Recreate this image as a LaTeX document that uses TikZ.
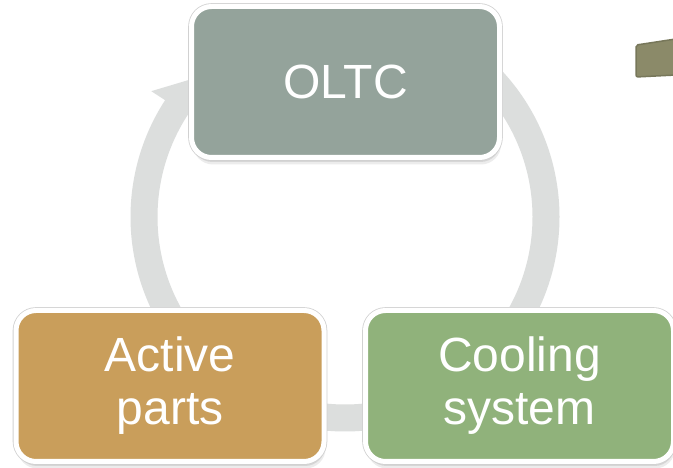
\documentclass[tikz,border=0pt]{standalone}
\usepackage{fontspec}
\setmainfont{Liberation Sans}
\usetikzlibrary{shadows}
\definecolor{oltcc}{HTML}{94A39B}
\definecolor{activec}{HTML}{C99E5B}
\definecolor{coolc}{HTML}{90B27B}
\definecolor{ringc}{HTML}{DCDEDD}
\definecolor{olivec}{HTML}{8B8A69}
\definecolor{olived}{HTML}{77775A}
\begin{document}
\begin{tikzpicture}[x=1pt,y=1pt,
  box/.style={rounded corners=20pt, draw=white, line width=5pt, text=white,
    minimum width=308pt, minimum height=151pt, inner sep=0pt, align=center,
    font=\fontsize{48}{53}\selectfont,
    drop shadow={opacity=0.15, shadow xshift=1.5pt, shadow yshift=-7pt},
    drop shadow={opacity=0.2, shadow xshift=1pt, shadow yshift=-4.5pt},
    drop shadow={opacity=0.22, shadow xshift=0.5pt, shadow yshift=-2.5pt},
    preaction={draw=black!18, line width=6.6pt}},
  ring/.style={draw=ringc, line width=27pt}]
\useasboundingbox (0,0) rectangle (673,468);
\clip (0,0) rectangle (673,468);
\fill[white] (0,0) rectangle (673,468);
% cycle ring
\coordinate (ctr) at (345,251);
\draw[ring] ([shift={(215:201)}]ctr) arc[start angle=215, end angle=146, radius=201];
\fill[ringc] ([shift={(147:171)}]ctr) -- ([shift={(147:231)}]ctr) -- ([shift={(137:204)}]ctr) -- cycle;
\draw[ring] ([shift={(45:201)}]ctr) arc[start angle=45, end angle=-50, radius=201];
\draw[ring] ([shift={(-60:201)}]ctr) arc[start angle=-60, end angle=-120, radius=201];
% partial shape at top right
\filldraw[fill=olivec, draw=olived, line width=1.5pt, rounded corners=2pt]
  (636,391) -- (636,423) .. controls (650,425) and (662,427) .. (676,429) -- (676,393) -- cycle;
% boxes
\node[box, fill=oltcc] (oltc) at (345.5,386) {OLTC};
\node[box, fill=activec] (active) at (170,82) {Active\\parts};
\node[box, fill=coolc] (cooling) at (519.5,82) {Cooling\\system};
\end{tikzpicture}
\end{document}
